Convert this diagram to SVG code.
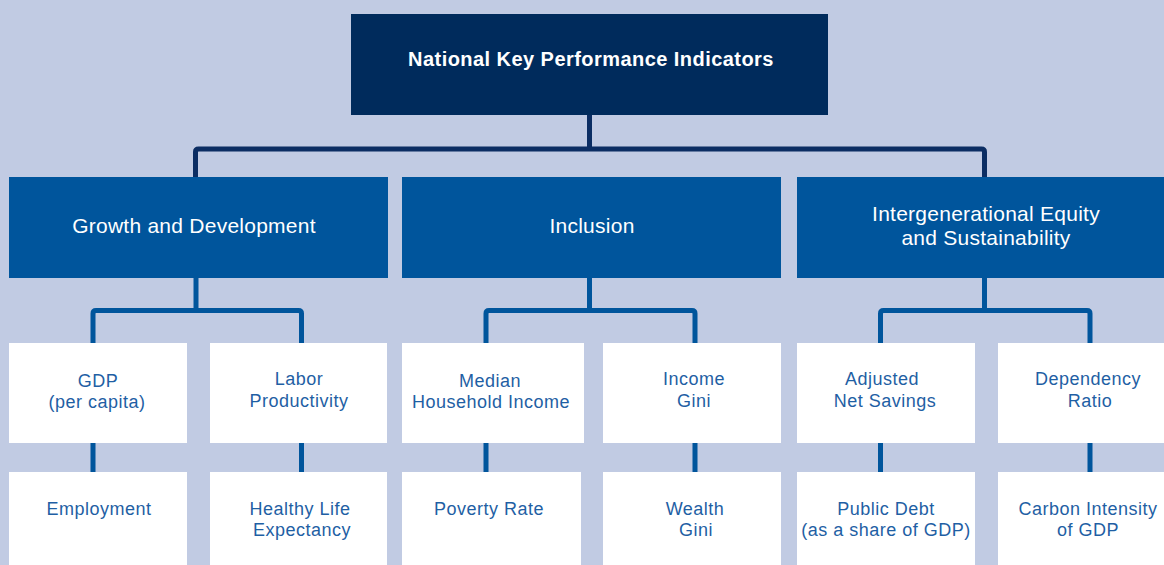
<svg xmlns="http://www.w3.org/2000/svg" width="1164" height="565" viewBox="0 0 1164 565">
<style>
.bg{fill:#C1CBE3}
.top{fill:#002B5C}
.mid{fill:#00559C}
.leaf{fill:#FFFFFF}
.ttop{font-family:"Liberation Sans",Arial,sans-serif;font-size:20px;font-weight:bold;letter-spacing:0.45px;fill:#FFFFFF;text-anchor:middle}
.tmid{font-family:"Liberation Sans",Arial,sans-serif;font-size:21px;letter-spacing:0.25px;fill:#FFFFFF;text-anchor:middle}
.tleaf{font-family:"Liberation Sans",Arial,sans-serif;font-size:18px;letter-spacing:0.5px;fill:#1F5FA4;text-anchor:middle}
.c1{fill:none;stroke:#0B2D63;stroke-width:5}
.c2{fill:none;stroke:#00559C;stroke-width:5}
</style>
<rect class="bg" x="0" y="0" width="1164" height="565"/>
<g id="connectors">
<path class="c1" d="M589.5,115 V149"/>
<path class="c1" d="M195.5,177 V152 Q195.5,149 198.5,149 H981.5 Q984.5,149 984.5,152 V177"/>
<path class="c2" d="M196,278 V313"/>
<path class="c2" d="M93,343 V313.5 Q93,310.5 96,310.5 H298.5 Q301.5,310.5 301.5,313.5 V343"/>
<path class="c2" d="M589.5,278 V313"/>
<path class="c2" d="M486,343 V313.5 Q486,310.5 489,310.5 H692 Q695,310.5 695,313.5 V343"/>
<path class="c2" d="M984.5,278 V313"/>
<path class="c2" d="M880.5,343 V313.5 Q880.5,310.5 883.5,310.5 H1087 Q1090,310.5 1090,313.5 V343"/>
<path class="c2" d="M93,443 V472 M301.5,443 V472 M486,443 V472 M695,443 V472 M880.5,443 V472 M1090,443 V472"/>
</g>
<g id="n-root"><rect class="top" x="351" y="14" width="477" height="101"/><text class="ttop" x="591" y="66">National Key Performance Indicators</text></g>
<g id="n-growth"><rect class="mid" x="9" y="177" width="379" height="101"/><text class="tmid" x="194" y="233">Growth and Development</text></g>
<g id="n-inclusion"><rect class="mid" x="402" y="177" width="379" height="101"/><text class="tmid" x="592" y="233">Inclusion</text></g>
<g id="n-equity"><rect class="mid" x="797" y="177" width="380" height="101"/><text class="tmid" x="986" y="221">Intergenerational Equity</text><text class="tmid" x="986" y="245">and Sustainability</text></g>
<g id="n-gdp"><rect class="leaf" x="9" y="343" width="178" height="100"/><text class="tleaf" x="98" y="387">GDP</text><text class="tleaf" x="97" y="408">(per capita)</text></g>
<g id="n-labor"><rect class="leaf" x="210" y="343" width="177" height="100"/><text class="tleaf" x="299" y="385">Labor</text><text class="tleaf" x="299" y="407">Productivity</text></g>
<g id="n-median"><rect class="leaf" x="402" y="343" width="182" height="100"/><text class="tleaf" x="490" y="387">Median</text><text class="tleaf" x="491" y="408">Household Income</text></g>
<g id="n-incgini"><rect class="leaf" x="603" y="343" width="178" height="100"/><text class="tleaf" x="694" y="385">Income</text><text class="tleaf" x="694" y="407">Gini</text></g>
<g id="n-ans"><rect class="leaf" x="797" y="343" width="178" height="100"/><text class="tleaf" x="882" y="385">Adjusted</text><text class="tleaf" x="885" y="407">Net Savings</text></g>
<g id="n-dep"><rect class="leaf" x="998" y="343" width="180" height="100"/><text class="tleaf" x="1088" y="385">Dependency</text><text class="tleaf" x="1090" y="407">Ratio</text></g>
<g id="n-emp"><rect class="leaf" x="9" y="472" width="178" height="100"/><text class="tleaf" x="99" y="515">Employment</text></g>
<g id="n-hle"><rect class="leaf" x="210" y="472" width="177" height="100"/><text class="tleaf" x="300" y="515">Healthy Life</text><text class="tleaf" x="302" y="536">Expectancy</text></g>
<g id="n-pov"><rect class="leaf" x="402" y="472" width="179" height="100"/><text class="tleaf" x="489" y="515">Poverty Rate</text></g>
<g id="n-wealth"><rect class="leaf" x="603" y="472" width="178" height="100"/><text class="tleaf" x="695" y="515">Wealth</text><text class="tleaf" x="696" y="536">Gini</text></g>
<g id="n-debt"><rect class="leaf" x="797" y="472" width="178" height="100"/><text class="tleaf" x="886" y="515">Public Debt</text><text class="tleaf" x="886" y="536">(as a share of GDP)</text></g>
<g id="n-carbon"><rect class="leaf" x="998" y="472" width="180" height="100"/><text class="tleaf" x="1088" y="515">Carbon Intensity</text><text class="tleaf" x="1088" y="536">of GDP</text></g>
</svg>
